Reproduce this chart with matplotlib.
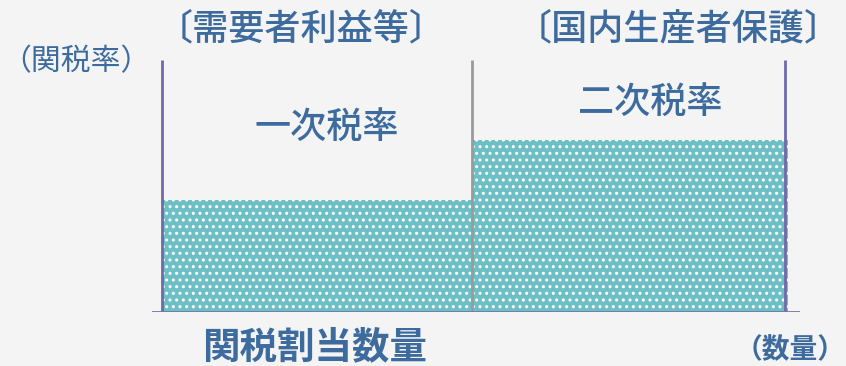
import matplotlib
matplotlib.use("Agg")
import matplotlib.pyplot as plt

# render at 120 dpi so the dot hatch spacing (~6.7 px) matches the original;
# S converts sizes that were tuned at 100 dpi
DPI = 120
S = 100 / DPI

plt.rcParams['font.family'] = ['Noto Sans CJK JP', 'DejaVu Sans']
plt.rcParams['hatch.linewidth'] = 1.3 * S

# tariff-rate quota schematic (conceptual units)
segments = ["一次税率", "二次税率"]
seg_start = [0.0, 1.0]          # quantity where each segment starts
seg_width = [1.0, 1.02]         # quota quantity, then the rest
rates = [1.0, 1.54]             # in-quota rate, out-of-quota rate
top_labels = ["〔需要者利益等〕", "〔国内生産者保護〕"]
y_label = "（関税率）"
x_label = "（数量）"
quota_label = "関税割当数量"

TEXT = "#3d6b9e"
BAR = "#6cbfc5"
BG = "#f4f4f4"

W, H = 846, 366
fig = plt.figure(figsize=(W / DPI, H / DPI), dpi=DPI, facecolor=BG)
ax = fig.add_axes([152 / W, 54 / H, 648 / W, 257 / H])
ax.set_facecolor(BG)
ax.set_xlim(-10 / 310, 638 / 310)
ax.set_ylim(0, 257 / 112)
ax.axis("off")

ax.bar(seg_start, rates, width=seg_width, align="edge", color=BAR,
       edgecolor="white", linewidth=0, hatch="...", zorder=1)

# vertical guides
top = 252 / 112
ax.vlines(0, 0, top, color="#6f6aa8", lw=2 * S, zorder=3)
ax.vlines(seg_start[1], 0, top, color="#9a9a9a", lw=2 * S, zorder=3)
ax.vlines(2.01, 0, top, color="#6f6aa8", lw=2 * S, zorder=3)
# quantity axis
ax.axhline(0, color="#7774b0", lw=2 * S, zorder=3)

# texts
fig.text(301 / W, 1 - 29 / H, top_labels[0], color=TEXT, fontsize=26 * S,
         ha="center", va="center", weight="medium")
fig.text(678 / W, 1 - 29 / H, top_labels[1], color=TEXT, fontsize=26 * S,
         ha="center", va="center", weight="medium")
fig.text(76 / W, 1 - 62 / H, y_label, color=TEXT, fontsize=21.5 * S,
         ha="center", va="center")
fig.text(327 / W, 1 - 128 / H, segments[0], color=TEXT, fontsize=26 * S,
         ha="center", va="center", weight="medium")
fig.text(650 / W, 1 - 103 / H, segments[1], color=TEXT, fontsize=26 * S,
         ha="center", va="center", weight="medium")
fig.text(315 / W, 1 - 347 / H, quota_label, color=TEXT, fontsize=27 * S,
         ha="center", va="center", weight="bold")
fig.text(790 / W, 1 - 350 / H, x_label, color=TEXT, fontsize=20 * S,
         ha="center", va="center", weight="bold")

fig.savefig("out.png", dpi=DPI, facecolor=BG)
